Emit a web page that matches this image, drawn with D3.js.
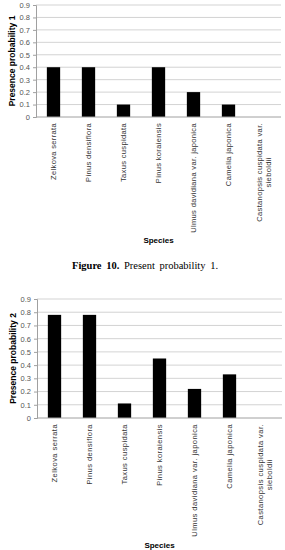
<!DOCTYPE html>
<html>
<head>
<meta charset="utf-8">
<script src="https://cdn.jsdelivr.net/npm/d3@7"></script>
<style>
  body { margin: 0; background: #fff; }
  svg { display: block; }
</style>
</head>
<body>
<svg id="chart" width="285" height="550"></svg>
<script>
// data
const species = [
  "Zelkova serrata",
  "Pinus densiflora",
  "Taxus cuspidata",
  "Pinus koraiensis",
  "Ulmus davidiana var. japonica",
  "Camelia japonica",
  "Castanopsis cuspidata var.|sieboldii"
]
const prob1 = [0.4, 0.4, 0.1, 0.4, 0.2, 0.1, 0]
const prob2 = [0.78, 0.78, 0.11, 0.45, 0.22, 0.33, 0]
const yTicks = [0, 0.1, 0.2, 0.3, 0.4, 0.5, 0.6, 0.7, 0.8, 0.9]

const svg = d3.select("#chart")

function drawPanel(values, yLabel, box) {
    const g = svg.append("g")

    const x = d3.scaleBand()
        .domain(d3.range(species.length))
        .range([box.x0, box.x1])
        .paddingInner(0.62)
        .paddingOuter(0.31)

    const y = d3.scaleLinear()
        .domain([0, 0.9])
        .range([box.y1, box.y0])

    // grid
    g.selectAll("line.grid")
        .data(yTicks.slice(1))
        .enter()
        .append("line")
        .attr("x1", box.x0)
        .attr("x2", box.x1)
        .attr("y1", d => y(d))
        .attr("y2", d => y(d))
        .attr("stroke", "#c8c8c8")
        .attr("stroke-width", 0.8)

    // y axis
    const yAxis = d3.axisLeft(y).tickValues(yTicks).tickSize(3).tickPadding(3)
        .tickFormat(d => d === 0 ? "0" : d3.format(".1f")(d))
    const ya = g.append("g").attr("transform", `translate(${box.x0},0)`).call(yAxis)
    ya.select(".domain").attr("stroke", "#a0a0a0")
    ya.selectAll(".tick line").attr("stroke", "#a0a0a0")
    ya.selectAll("text")
        .attr("fill", "#555")
        .style("font-family", "Liberation Sans, Arial, sans-serif")
        .style("font-size", "7.5px")

    // bars
    g.selectAll("rect.bar")
        .data(values)
        .enter()
        .append("rect")
        .attr("x", (d, i) => x(i))
        .attr("width", x.bandwidth())
        .attr("y", d => y(d))
        .attr("height", d => y(0) - y(d))
        .attr("fill", "#000")

    // x axis line
    g.append("line")
        .attr("x1", box.x0).attr("x2", box.x1)
        .attr("y1", y(0)).attr("y2", y(0))
        .attr("stroke", "#a0a0a0")

    // category labels, rotated
    const labelStyle = sel => sel
        .attr("fill", "#333")
        .style("font-family", "Liberation Sans, Arial, sans-serif")
        .style("font-size", "7.5px")
        .style("letter-spacing", box.ls + "px")
    species.forEach((name, i) => {
        const cx = x(i) + x.bandwidth() / 2
        const lines = name.split("|")
        const top = y(0) + 6
        if (lines.length === 1) {
            g.append("text")
                .attr("transform", `translate(${cx + 2.5},${top}) rotate(-90)`)
                .attr("text-anchor", "end")
                .call(labelStyle)
                .text(name)
        } else {
            const first = g.append("text")
                .attr("transform", `translate(${cx - 2},${top}) rotate(-90)`)
                .attr("text-anchor", "end")
                .call(labelStyle)
                .text(lines[0])
            const len = first.node().getComputedTextLength()
            g.append("text")
                .attr("transform", `translate(${cx + 7.5},${top + len / 2}) rotate(-90)`)
                .attr("text-anchor", "middle")
                .call(labelStyle)
                .text(lines[1])
        }
    })

    // y label
    g.append("text")
        .attr("transform", `translate(${box.x0 - 21},${(box.y0 + box.y1) / 2}) rotate(-90)`)
        .attr("text-anchor", "middle")
        .style("font-family", "Liberation Sans, Arial, sans-serif")
        .style("font-size", "8.5px")
        .style("font-weight", "bold")
        .text(yLabel)

    // x label
    g.append("text")
        .attr("x", (box.x0 + box.x1) / 2)
        .attr("y", box.xLabelY)
        .attr("text-anchor", "middle")
        .style("font-family", "Liberation Sans, Arial, sans-serif")
        .style("font-size", "8px")
        .style("font-weight", "bold")
        .text("Species")
}

drawPanel(prob1, "Presence probability 1", { x0: 36, x1: 281, y0: 5, y1: 117, xLabelY: 243, ls: 0.35 })
drawPanel(prob2, "Presence probability 2", { x0: 37, x1: 282, y0: 299, y1: 418, xLabelY: 548, ls: 0.45 })

// caption
const cap = svg.append("text")
    .attr("x", 145)
    .attr("y", 269)
    .attr("text-anchor", "middle")
    .style("font-family", "Liberation Serif, Times New Roman, serif")
    .style("font-size", "10.5px")
    .style("word-spacing", "2px")
cap.append("tspan").style("font-weight", "bold").text("Figure 10.")
cap.append("tspan").text(" Present probability 1.")
</script>
</body>
</html>
